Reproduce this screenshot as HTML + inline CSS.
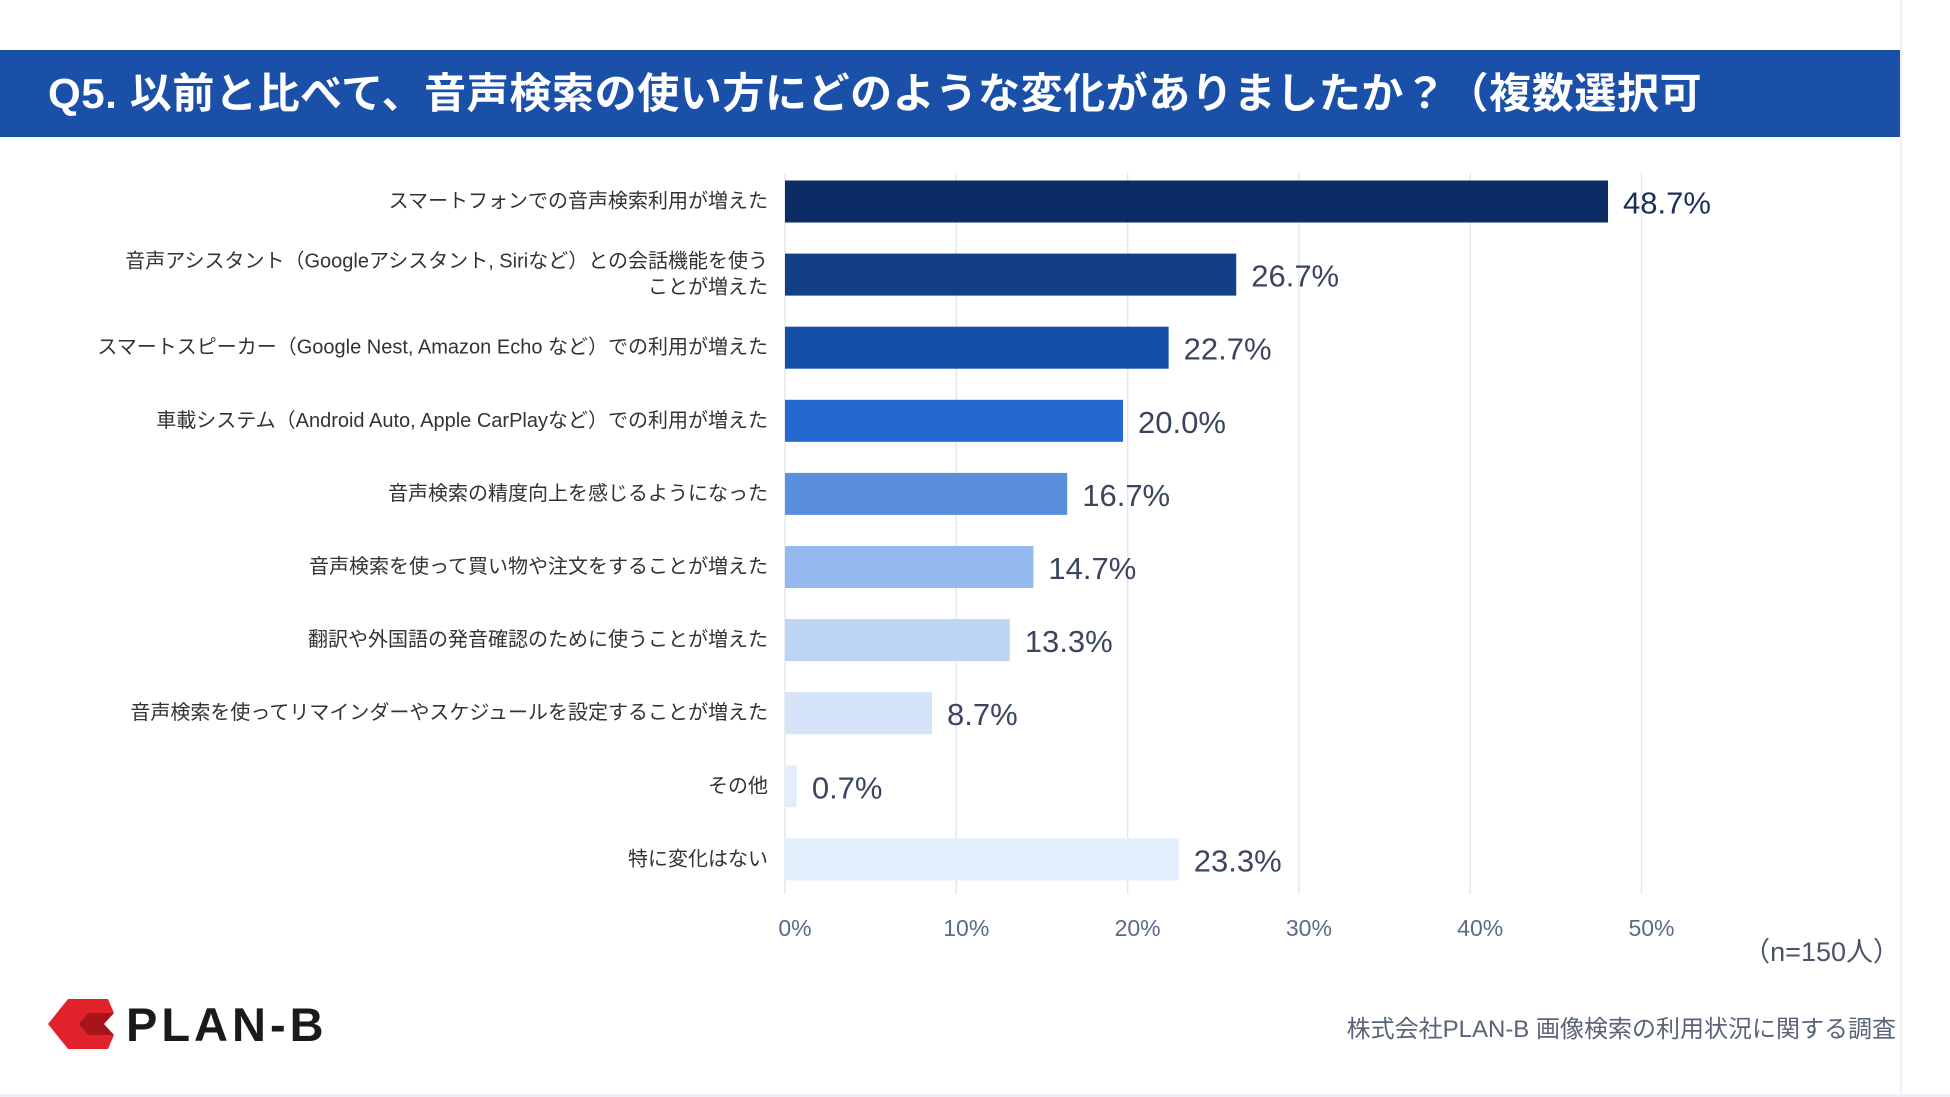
<!DOCTYPE html>
<html><head><meta charset="utf-8">
<style>
body{margin:0;width:1950px;height:1097px;background:#fff;font-family:"Liberation Sans","Noto Sans CJK JP",sans-serif;overflow:hidden;position:relative}
.hdr{position:absolute;left:0;top:50px;width:1900px;height:87px;background:#1b50a8;color:#fff;font-size:42px;font-weight:bold;line-height:87px;padding-left:48px;box-sizing:border-box;white-space:nowrap;letter-spacing:0.6px}
.rb{position:absolute;left:1900px;top:0;width:2px;height:1097px;background:#eef0f3}
.bb{position:absolute;left:0;top:1094px;width:1950px;height:3px;background:#eef0f3}
svg{position:absolute;left:0;top:0}
</style></head><body>
<div class="rb"></div>
<div class="bb"></div>
<div class="hdr">Q5. 以前と比べて、音声検索の使い方にどのような変化がありましたか？（複数選択可</div>
<svg id="chart" width="1950" height="1097"></svg>
<div style="position:absolute;left:48px;top:998px;height:52px;display:flex;align-items:center">
<svg width="66" height="50" viewBox="0 0 66 50" style="position:static"><polygon points="20,0 60,0 66,14 40,14 30,25 40,36 66,36 60,50 20,50 0,25" fill="#e2222b"/><polygon points="30,25 40,14 66,14 56,25 66,36 40,36" fill="#a8141c"/></svg>
<span style="font-size:47px;font-weight:bold;color:#1a1a1a;margin-left:12px;letter-spacing:4px">PLAN-B</span></div>
<div style="position:absolute;right:50px;top:930px;font-size:27px;color:#4a5468">（n=150人）</div>
<div style="position:absolute;right:54px;top:1009px;font-size:24px;color:#5a6478">株式会社PLAN-B 画像検索の利用状況に関する調査</div>
<script>
const categories=[["スマートフォンでの音声検索利用が増えた"],["音声アシスタント（Googleアシスタント, Siriなど）との会話機能を使う","ことが増えた"],["スマートスピーカー（Google Nest, Amazon Echo など）での利用が増えた"],["車載システム（Android Auto, Apple CarPlayなど）での利用が増えた"],["音声検索の精度向上を感じるようになった"],["音声検索を使って買い物や注文をすることが増えた"],["翻訳や外国語の発音確認のために使うことが増えた"],["音声検索を使ってリマインダーやスケジュールを設定することが増えた"],["その他"],["特に変化はない"]];
const values=[48.7,26.7,22.7,20.0,16.7,14.7,13.3,8.7,0.7,23.3];
const ticks=[0,10,20,30,40,50];
const colors=["#0c2c66","#123f86","#1550a8","#2468d0","#5a8fdc","#95b8ee","#bdd4f5","#d4e3f8","#e4eefb","#e3eefd"];
const NS="http://www.w3.org/2000/svg";
const svg=document.getElementById("chart");
const x=v=>785+v*17.13;
const xb=v=>785+v*16.9;
const y=i=>201.5+i*73.1;
function mk(t,a){const e=document.createElementNS(NS,t);for(const k in a)e.setAttribute(k,a[k]);svg.appendChild(e);return e;}
ticks.forEach(t=>{
 const l=mk("line",{x1:x(t),x2:x(t),y1:173,y2:894,stroke:"#e3e7ee","stroke-width":1.5});
 
 
 const tx=mk("text",{x:x(t)+10,y:936,"text-anchor":"middle","font-size":23,fill:"#5a6a88"});
 tx.textContent=t+"%";
 
 
});
values.forEach((v,i)=>{
 const r=mk("rect",{x:xb(0),y:y(i)-21,width:xb(v)-xb(0),height:42,fill:colors[i]});
 
 
 const t=mk("text",{x:xb(v)+15,y:y(i)+12,"font-size":31,fill:i==0?"#1b2f5c":"#3a4660"});
 t.textContent=v.toFixed(1)+"%";
 
 
 const lines=categories[i];
 lines.forEach((s,j)=>{
  const c=mk("text",{x:768,y:y(i)+6+(lines.length>1?(j-0.5)*26:0),"text-anchor":"end","font-size":20,fill:"#333"});
  c.textContent=s;
  
  
 });
});
</script>
</body></html>
